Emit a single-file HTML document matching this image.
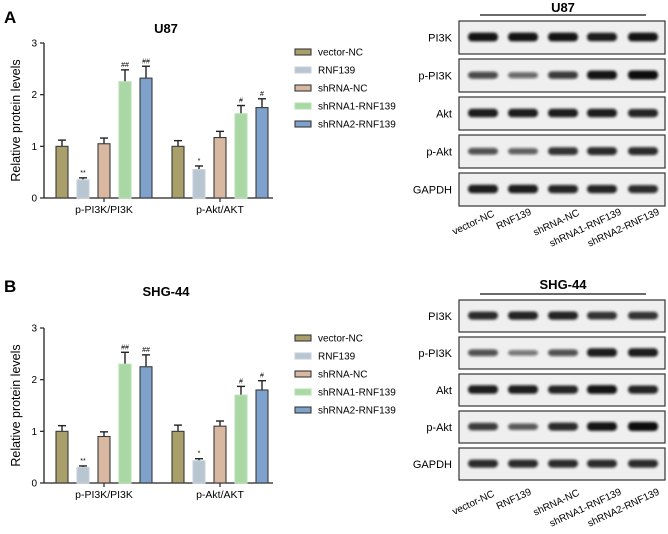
<!DOCTYPE html>
<html><head><meta charset="utf-8"><style>
body{margin:0;background:#fff}
svg{display:block;font-family:"Liberation Sans",Arial,sans-serif}
</style></head><body>
<svg id="fig" width="668" height="534" viewBox="0 0 668 534">
<defs><filter id="blur" x="-20%" y="-50%" width="140%" height="200%"><feGaussianBlur stdDeviation="1.3"/></filter></defs>
</svg>
<script>
const groups=["p-PI3K/PI3K","p-Akt/AKT"];
const series=["vector-NC","RNF139","shRNA-NC","shRNA1-RNF139","shRNA2-RNF139"];
const yTicks=[0,1,2,3];
const sigA=[["","**","","##","##"],["","*","","#","#"]];
const valsA=[[1.0,0.35,1.05,2.25,2.32],[1.0,0.55,1.17,1.63,1.75]];
const errA=[[0.12,0.04,0.11,0.23,0.23],[0.11,0.07,0.12,0.16,0.17]];
const valsB=[[1.0,0.3,0.9,2.3,2.25],[1.0,0.43,1.1,1.7,1.8]];
const errB=[[0.11,0.03,0.09,0.23,0.23],[0.12,0.04,0.1,0.17,0.18]];
const blotRows=["PI3K","p-PI3K","Akt","p-Akt","GAPDH"];
const bandA=[[0.95,0.95,0.95,0.9,0.95],[0.6,0.4,0.7,0.95,1],[0.9,0.9,0.9,0.9,0.85],[0.55,0.45,0.75,0.8,0.8],[0.9,0.9,0.85,0.85,0.8]];
const bandB=[[0.8,0.85,0.85,0.75,0.75],[0.55,0.3,0.55,0.9,0.9],[0.9,0.9,0.85,0.95,0.85],[0.7,0.5,0.8,0.95,1],[0.8,0.8,0.8,0.8,0.8]];
const fills=["#a89f6a","#b8c6d2","#d8b8a0","#a9d8a5","#7fa2cc"];
const strokes=["#3a3a3a","#c8d2dc","#3a3a3a","#b8e0b4","#3a3a3a"];
const NS="http://www.w3.org/2000/svg";
const svg=document.getElementById('fig');
function el(t,a,p){const e=document.createElementNS(NS,t);for(const k in a)e.setAttribute(k,a[k]);(p||svg).appendChild(e);return e;}
function txt(s,a,p){const e=el('text',a,p);e.textContent=s;return e;}

function chart(ox,oy,title,titleY,vals,errs,sig,legY,letter,letterY){
  const g=el('g',{});
  
  
  const x0=44,y0=oy,h=155,xEnd=273;
  const Y=v=>y0-v/3*h;
  const L=txt(letter,{x:4,y:letterY,'font-size':17,'font-weight':'bold'},g);
  
  
  const T=txt(title,{x:166,y:titleY,'font-size':13,'font-weight':'bold','text-anchor':'middle'},g);
  
  
  el('line',{x1:x0,y1:Y(3),x2:x0,y2:y0,stroke:'#222','stroke-width':1.3},g);
  el('line',{x1:x0,y1:y0,x2:xEnd,y2:y0,stroke:'#222','stroke-width':1.3},g);
  yTicks.forEach(t=>{
    el('line',{x1:x0-4,y1:Y(t),x2:x0,y2:Y(t),stroke:'#222','stroke-width':1.2},g);
    const tl=txt(t,{x:x0-7,y:Y(t)+3.5,'font-size':10,'text-anchor':'end'},g);
    
    
  });
  const yt=txt('Relative protein levels',{x:0,y:0,'font-size':12.5,'text-anchor':'middle',transform:`translate(20,${y0-h/2}) rotate(-90)`},g);
  
  
  const gx=[104,220];
  groups.forEach((gn,gi)=>{
    el('line',{x1:gx[gi],y1:y0,x2:gx[gi],y2:y0+4,stroke:'#222','stroke-width':1.2},g);
    const xl=txt(gn,{x:gx[gi],y:y0+15,'font-size':10.5,'text-anchor':'middle'},g);
    
    
    series.forEach((s,si)=>{
      const cx=gx[gi]+(si-2)*21,v=vals[gi][si],e=errs[gi][si];
      el('line',{x1:cx,y1:Y(v),x2:cx,y2:Y(v+e),stroke:'#222','stroke-width':1.4},g);
      el('line',{x1:cx-4,y1:Y(v+e),x2:cx+4,y2:Y(v+e),stroke:'#222','stroke-width':1.4},g);
      const b=el('rect',{x:cx-6,y:Y(v),width:12,height:Y(0)-Y(v),fill:fills[si],stroke:strokes[si],'stroke-width':1.1},g);
      
      
      if(sig[gi][si]){const st=txt(sig[gi][si],{x:cx,y:Y(v+e)-3,'font-size':7,'text-anchor':'middle'},g);
        
        }
    });
  });
  series.forEach((s,si)=>{
    const ly=legY+si*18;
    const lg=el('g',{},g);
    
    
    el('rect',{x:295,y:ly-3,width:16,height:6,fill:fills[si],stroke:strokes[si],'stroke-width':1.1},lg);
    txt(s,{x:318,y:ly+3.5,'font-size':10},lg);
  });
}
chart(0,198,'U87',33,valsA,errA,sigA,52,'A',23);
chart(0,483,'SHG-44',296,valsB,errB,sigA,338,'B',292);

function blot(top,title,titleY,lineY,bands,rowH,gap,labelY){
  const g=el('g',{});
  
  
  const T=txt(title,{x:563,y:titleY,'font-size':13,'font-weight':'bold','text-anchor':'middle'},g);
  
  
  el('line',{x1:480,y1:lineY,x2:646,y2:lineY,stroke:'#111','stroke-width':1.2},g);
  const lanes=[483,523,563,602,643];
  blotRows.forEach((r,ri)=>{
    const y=top+ri*(rowH+gap);
    el('rect',{x:459,y:y,width:206,height:rowH,fill:'#efefef',stroke:'#333','stroke-width':1.2},g);
    const rl=txt(r,{x:452,y:y+rowH/2+4,'font-size':11,'text-anchor':'end'},g);
    
    
    lanes.forEach((lx,li)=>{
      const it=bands[ri][li];
      const b=el('rect',{x:lx-15,y:y+rowH/2-2-it*3,width:30,height:4+it*5,rx:4,fill:'#111','fill-opacity':0.35+0.65*it,filter:'url(#blur)'},g);
      
      
    });
  });
  const ends=[[495,0],[532,-2],[580,-1],[622,-2],[660,-2]];
  series.forEach((s,si)=>{
    const lx=ends[si][0],ly=labelY+ends[si][1];
    const l=txt(s,{x:lx,y:ly,'font-size':10,'text-anchor':'end',transform:`rotate(-25 ${lx} ${ly})`},g);
    
    
  });
}
blot(21,'U87',12,15,bandA,33,5,216);
blot(300,'SHG-44',289,294,bandB,32,5,496);
</script>
</body></html>
